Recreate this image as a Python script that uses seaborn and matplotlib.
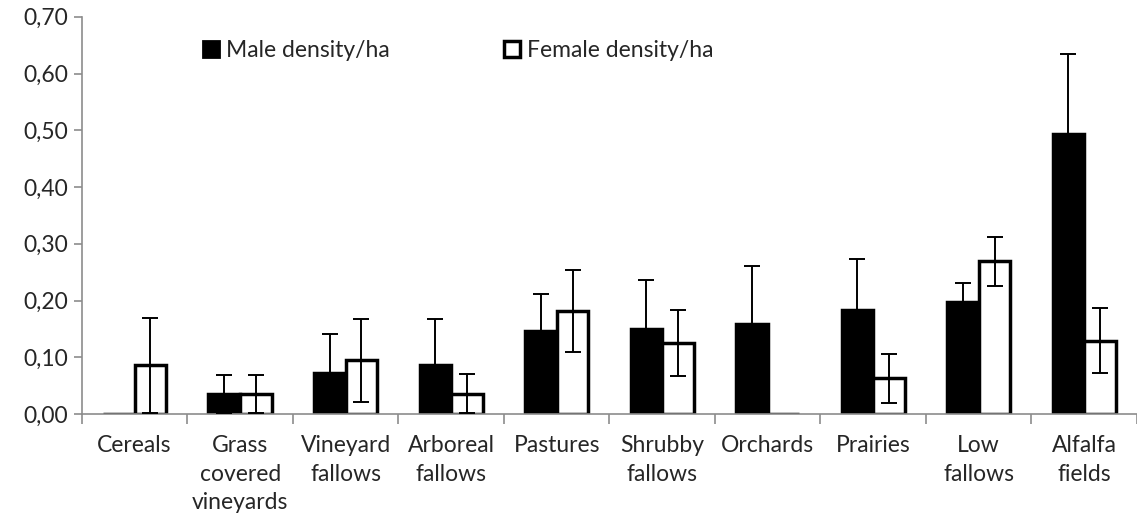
import numpy as np
import pandas as pd
import matplotlib
matplotlib.use("Agg")
import matplotlib.pyplot as plt
import seaborn as sns
from matplotlib.ticker import FuncFormatter, FixedLocator
from matplotlib.patches import Patch

habitats = ["Cereals", "Grass\ncovered\nvineyards", "Vineyard\nfallows", "Arboreal\nfallows",
            "Pastures", "Shrubby\nfallows", "Orchards", "Prairies", "Low\nfallows", "Alfalfa\nfields"]
male = [0.0, 0.035, 0.073, 0.086, 0.147, 0.150, 0.159, 0.183, 0.197, 0.494]
male_err = [0.0, 0.034, 0.068, 0.082, 0.064, 0.087, 0.102, 0.090, 0.034, 0.140]
female = [0.086, 0.035, 0.095, 0.036, 0.181, 0.125, 0.0, 0.063, 0.269, 0.129]
female_err = [0.084, 0.034, 0.073, 0.035, 0.072, 0.058, 0.0, 0.043, 0.043, 0.057]
series = ["Male density/ha", "Female density/ha"]
yticks = [0.0, 0.1, 0.2, 0.3, 0.4, 0.5, 0.6, 0.7]

df = pd.DataFrame({
    "habitat": habitats * 2,
    "density": male + female,
    "sex": [series[0]] * len(habitats) + [series[1]] * len(habitats),
})

sns.set_style("white")
plt.rcParams["font.family"] = ["Lato", "DejaVu Sans"]
FS = 16.5

fig = plt.figure(figsize=(11.37, 5.31), dpi=100)
ax = fig.add_axes([0.072, 0.2203, 0.928, 0.748])

sns.barplot(data=df, x="habitat", y="density", hue="sex", order=habitats,
            hue_order=series, palette=["black", "white"], edgecolor="black",
            linewidth=2.5, width=0.6, errorbar=None, ax=ax, legend=False)

errs = [male_err, female_err]
for cont, err in zip(ax.containers, errs):
    xs = [p.get_x() + p.get_width() / 2 for p in cont.patches]
    hs = [p.get_height() for p in cont.patches]
    xe = [x for x, e in zip(xs, err) if e > 0]
    he = [h for h, e in zip(hs, err) if e > 0]
    ee = [e for e in err if e > 0]
    ax.errorbar(xe, he, yerr=ee, fmt="none", ecolor="black", elinewidth=1.4,
                capsize=6, capthick=1.4, zorder=5)

ax.set_xlim(-0.5, len(habitats) - 0.5)
ax.set_ylim(0, 0.70)
ax.set_yticks(yticks)
ax.yaxis.set_major_formatter(FuncFormatter(lambda v, p: f"{v:.2f}".replace(".", ",")))
ax.set_xlabel("")
ax.set_ylabel("")

for s in ["top", "right"]:
    ax.spines[s].set_visible(False)
for s in ["left", "bottom"]:
    ax.spines[s].set_color("#8c8c8c")
    ax.spines[s].set_linewidth(1.2)

ax.tick_params(axis="y", which="major", direction="out", length=6, width=1.2,
               color="#8c8c8c", labelsize=FS, pad=4, left=True)
ax.tick_params(axis="x", which="major", length=0, labelsize=FS, pad=15)
ax.xaxis.set_minor_locator(FixedLocator(np.arange(-0.5, len(habitats), 1.0)))
ax.tick_params(axis="x", which="minor", direction="out", length=7, width=1.2,
               color="#8c8c8c", bottom=True)
for lab in ax.get_xticklabels():
    lab.set_linespacing(1.45)

handles = [Patch(facecolor="black", edgecolor="black", linewidth=2),
           Patch(facecolor="white", edgecolor="black", linewidth=2.5)]
ax.legend(handles, series, ncol=2, frameon=False, loc="center left",
          bbox_to_anchor=(0.095, 0.915), fontsize=FS, handlelength=0.7,
          handleheight=0.7, handletextpad=0.3, columnspacing=5.0)

fig.savefig("out.png", dpi=100)
